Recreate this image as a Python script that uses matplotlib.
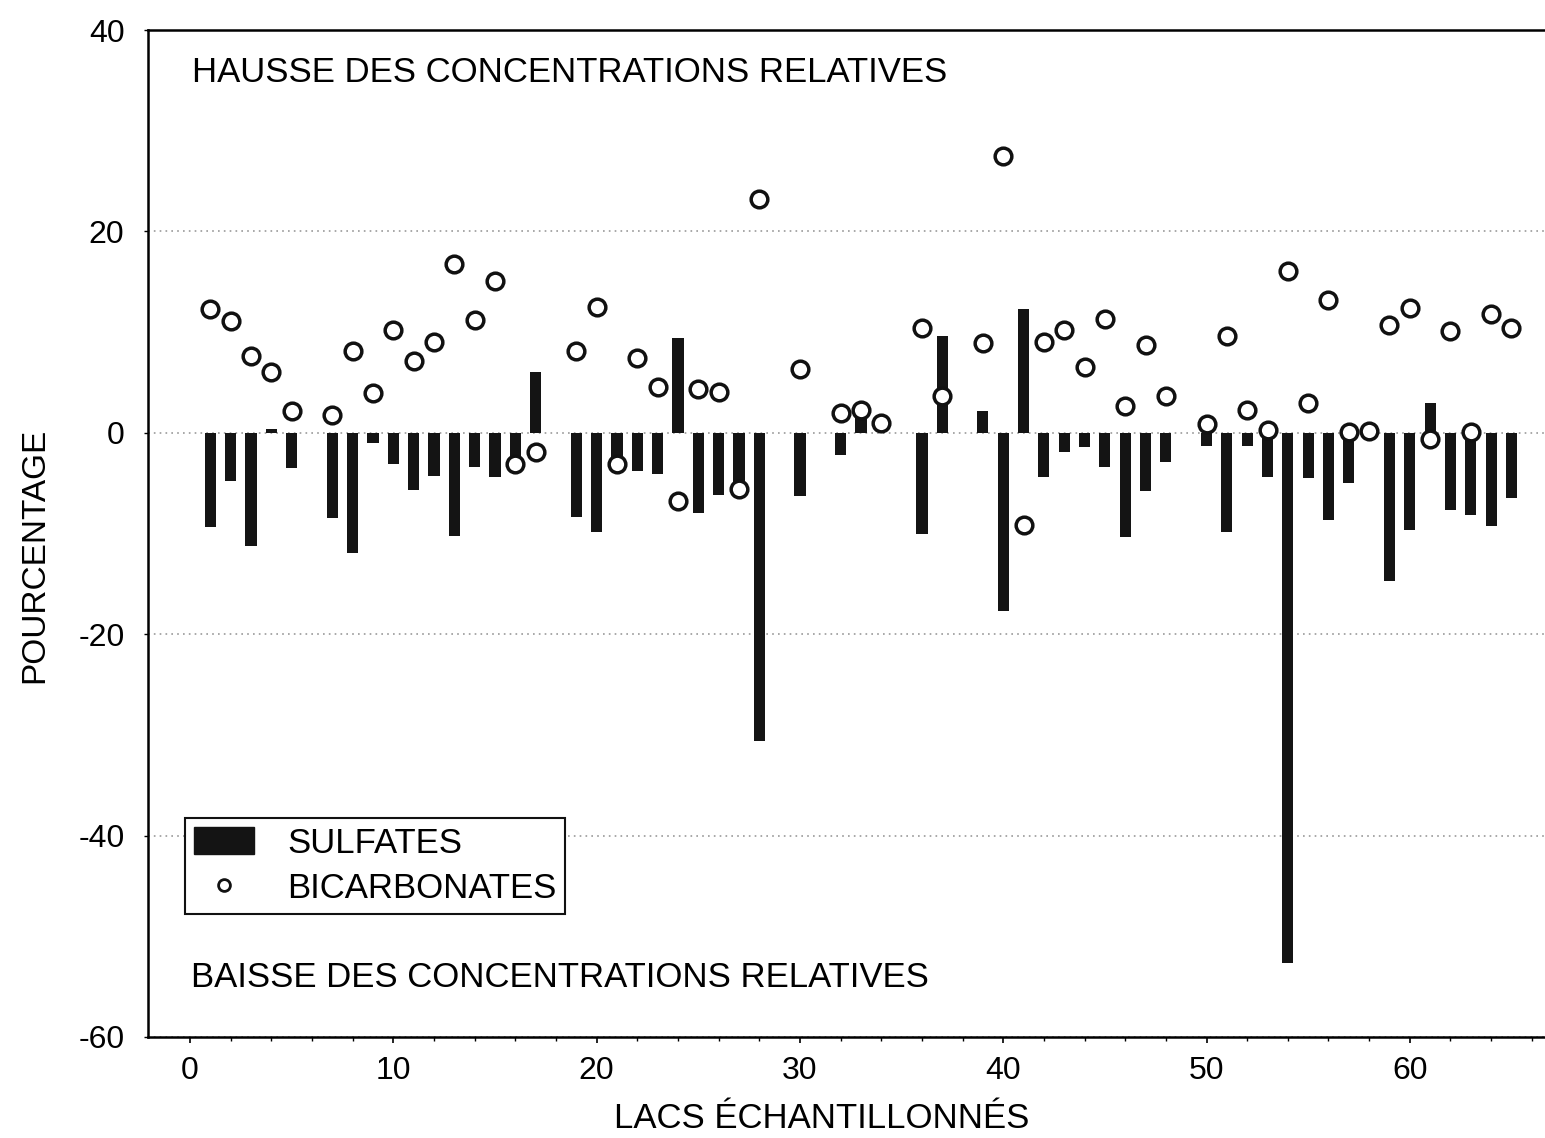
import matplotlib.pyplot as plt
import numpy as np
from matplotlib.patches import Patch
from matplotlib.lines import Line2D

nan = np.nan

lakes = np.arange(1, 66)

sulfates = [
    -9.4, -4.8, -11.2, 0.4, -3.5, nan, -8.5, -11.9, -1.0, -3.1,
    -5.7, -4.3, -10.2, -3.4, -4.4, -2.6, 6.0, nan, -8.4, -9.9,
    -2.8, -3.8, -4.1, 9.4, -8.0, -6.2, -5.0, -30.6, nan, -6.3,
    nan, -2.2, 2.2, nan, nan, -10.0, 9.6, nan, 2.2, -17.7,
    12.3, -4.4, -1.9, -1.4, -3.4, -10.3, -5.8, -2.9, nan, -1.3,
    -9.9, -1.3, -4.4, -52.7, -4.5, -8.7, -5.0, nan, -14.7, -9.7,
    3.0, -7.7, -8.2, -9.3, -6.5,
]

bicarbonates = [
    12.3, 11.1, 7.6, 6.0, 2.2, nan, 1.8, 8.1, 4.0, 10.2,
    7.1, 9.0, 16.8, 11.2, 15.1, -3.1, -1.9, nan, 8.1, 12.5,
    -3.1, 7.4, 4.5, -6.8, 4.3, 4.1, -5.6, 23.2, nan, 6.3,
    nan, 2.0, 2.3, 1.0, nan, 10.4, 3.7, nan, 8.9, 27.5,
    -9.2, 9.0, 10.2, 6.5, 11.3, 2.7, 8.7, 3.7, nan, 0.9,
    9.6, 2.3, 0.3, 16.1, 3.0, 13.2, 0.1, 0.2, 10.7, 12.4,
    -0.6, 10.1, 0.1, 11.8, 10.4,
]

x_ticks = [0, 10, 20, 30, 40, 50, 60]
y_ticks = [40, 20, 0, -20, -40, -60]

plt.rcParams['font.family'] = ['Liberation Sans', 'DejaVu Sans']
plt.rcParams['axes.unicode_minus'] = False

fig = plt.figure(figsize=(15.45, 11.38), dpi=100)
ax = fig.add_axes([148 / 1545, 101 / 1138, 1 - 148 / 1545, 1007 / 1138])

ax.bar(lakes, sulfates, width=0.55, color='#141414', zorder=2)
ax.plot(lakes, bicarbonates, 'o', markersize=12, markerfacecolor='white',
        markeredgecolor='#111111', markeredgewidth=2.5, zorder=3)

ax.set_xlim(-2.07, 66.65)
ax.set_ylim(-60, 40)
ax.set_xticks(x_ticks)
ax.set_xticks(np.arange(0, 67, 2), minor=True)
ax.set_yticks(y_ticks)
ax.tick_params(axis='x', which='major', length=4, width=1.2, pad=10, labelsize=23)
ax.tick_params(axis='x', which='minor', length=3, width=1)
ax.tick_params(axis='y', length=3, width=1, pad=14, labelsize=23)

# dotted reference lines
ax.grid(axis='y', linestyle=(0, (1, 2.5)), color='#999999', linewidth=1.2, zorder=0)
ax.set_axisbelow(True)

for side in ['left', 'bottom', 'top']:
    ax.spines[side].set_linewidth(1.8)
ax.spines['right'].set_visible(False)

ax.text(0.1, 35.8, 'HAUSSE DES CONCENTRATIONS RELATIVES', fontsize=25,
        ha='left', va='center')
ax.text(0.05, -54.1, 'BAISSE DES CONCENTRATIONS RELATIVES', fontsize=25,
        ha='left', va='center')

fig.text(35 / 1545, 1 - 555 / 1138, 'POURCENTAGE', rotation=90, fontsize=24,
         ha='center', va='center')
fig.text(822 / 1545, 1 - 1118 / 1138, 'LACS ÉCHANTILLONNÉS', fontsize=25,
         ha='center', va='center')

handles = [
    Patch(facecolor='#141414', edgecolor='#141414', label='SULFATES'),
    Line2D([], [], marker='o', linestyle='none', markersize=8.5,
           markerfacecolor='white', markeredgecolor='#111111',
           markeredgewidth=2, label='BICARBONATES'),
]
legend = ax.legend(handles=handles, loc='upper left',
                   bbox_to_anchor=(37 / 1397, 1 - 788 / 1007),
                   fontsize=25, frameon=True, fancybox=False, framealpha=1,
                   edgecolor='#111111', handlelength=1.75, handleheight=0.8,
                   handletextpad=0.95, borderpad=0.25, labelspacing=0.35,
                   borderaxespad=0)
legend.get_frame().set_linewidth(1.5)

plt.savefig('out.png', dpi=100)
